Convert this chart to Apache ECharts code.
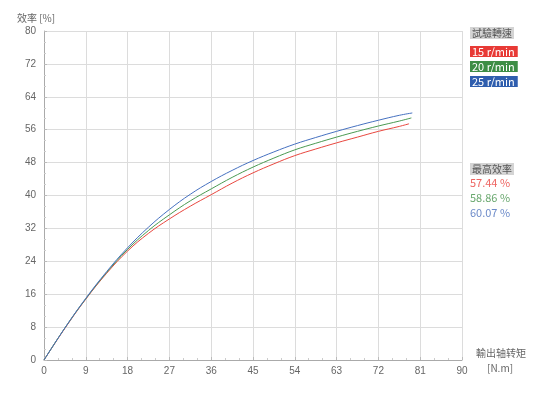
<!DOCTYPE html>
<html>
<head>
    <meta charset="utf-8">
    <title>效率曲線</title>
    <script src="https://cdn.jsdelivr.net/npm/echarts@6/dist/echarts.min.js"></script>
</head>
<body style="margin:0;background:#fff">
    <div id="main" style="width:539px;height:400px;"></div>
    <script type="text/javascript">
// torque [N.m]
var torque = [0, 4.5, 9, 13.5, 18, 22.5, 27, 31.5, 36, 40.5, 45, 49.5, 54, 58.5, 63, 67.5, 72, 76.5];
// efficiency [%] per speed
var eff15 = [0, 7.7, 14.8, 21.1, 26.5, 30.8, 34.3, 37.4, 40.2, 43.0, 45.5, 47.7, 49.7, 51.3, 52.8, 54.2, 55.6, 56.8];
var eff20 = [0, 7.8, 14.9, 21.3, 26.9, 31.5, 35.3, 38.7, 41.6, 44.4, 46.9, 49.1, 51.1, 52.7, 54.2, 55.6, 56.9, 58.1];
var eff25 = [0, 7.8, 15.0, 21.5, 27.3, 32.3, 36.6, 40.3, 43.4, 46.1, 48.5, 50.6, 52.5, 54.1, 55.6, 57.0, 58.3, 59.5];
var lastPt = { '15': [78.6, 57.44], '20': [79.1, 58.86], '25': [79.3, 60.07] };
var speeds = ['15 r/min', '20 r/min', '25 r/min'];
var maxEff = ['57.44 %', '58.86 %', '60.07 %'];

var colors = ['#e8473f', '#4a9a52', '#4671c0'];
var boxColors = ['#e83a36', '#3d8d45', '#2f5eae'];
var valColors = ['#ee6461', '#6aa86f', '#6d8bc9'];

function pairs(ys, end) {
    var res = [];
    for (var i = 0; i < torque.length; i++) res.push([torque[i], ys[i]]);
    res.push(end);
    return res;
}

var chart = echarts.init(document.getElementById('main'));
var font = '"Noto Sans CJK TC", "Noto Sans", sans-serif';

var graphics = [
    { type: 'text', left: 17, top: 13, style: { text: '效率 [%]', fill: '#666', font: '10px ' + font } },
    { type: 'text', left: 476, top: 348, style: { text: '輸出轴转矩', fill: '#666', font: '10px ' + font } },
    { type: 'text', left: 487, top: 363, style: { text: '[N.m]', fill: '#666', font: '10px ' + font } },
    { type: 'text', left: 470, top: 27, style: { text: '試驗轉速', fill: '#555', font: '10px ' + font, backgroundColor: '#d4d4d4', padding: [1, 2] } },
    { type: 'text', left: 470, top: 163, style: { text: '最高效率', fill: '#555', font: '10px ' + font, backgroundColor: '#d4d4d4', padding: [1, 2] } }
];
for (var k = 0; k < 3; k++) {
    graphics.push({ type: 'text', left: 470, top: 46 + k * 15, style: { text: speeds[k], fill: '#fff', font: '11px ' + font, backgroundColor: boxColors[k], padding: [0, 3, 0, 2] } });
    graphics.push({ type: 'text', left: 470, top: 177 + k * 15, style: { text: maxEff[k], fill: valColors[k], font: '11px ' + font } });
}

chart.setOption({
    backgroundColor: '#fff',
    animation: false,
    grid: { left: 44, right: 77, top: 31, bottom: 40 },
    graphic: graphics,
    xAxis: {
        type: 'value', min: 0, max: 90, interval: 9,
        axisLine: { lineStyle: { color: '#aaa' } },
        axisTick: { inside: true, length: 3, lineStyle: { color: '#bbb' } },
        minorTick: { show: true, splitNumber: 3, length: 2, lineStyle: { color: '#ccc' } },
        axisLabel: { color: '#666', fontSize: 10, margin: 6 },
        splitLine: { show: true, lineStyle: { color: '#dcdcdc' } }
    },
    yAxis: {
        type: 'value', min: 0, max: 80, interval: 8,
        axisLine: { show: true, lineStyle: { color: '#aaa' } },
        axisTick: { show: true, inside: true, length: 3, lineStyle: { color: '#bbb' } },
        minorTick: { show: true, splitNumber: 3, length: 2, lineStyle: { color: '#ccc' } },
        axisLabel: { color: '#666', fontSize: 10, margin: 8 },
        splitLine: { show: true, lineStyle: { color: '#dcdcdc' } }
    },
    series: [
        { name: speeds[0], type: 'line', showSymbol: false, smooth: 0.4, data: pairs(eff15, lastPt['15']), lineStyle: { color: colors[0], width: 1 }, z: 3 },
        { name: speeds[1], type: 'line', showSymbol: false, smooth: 0.4, data: pairs(eff20, lastPt['20']), lineStyle: { color: colors[1], width: 1 }, z: 4 },
        { name: speeds[2], type: 'line', showSymbol: false, smooth: 0.4, data: pairs(eff25, lastPt['25']), lineStyle: { color: colors[2], width: 1 }, z: 5 }
    ]
});
    </script>
</body>
</html>
